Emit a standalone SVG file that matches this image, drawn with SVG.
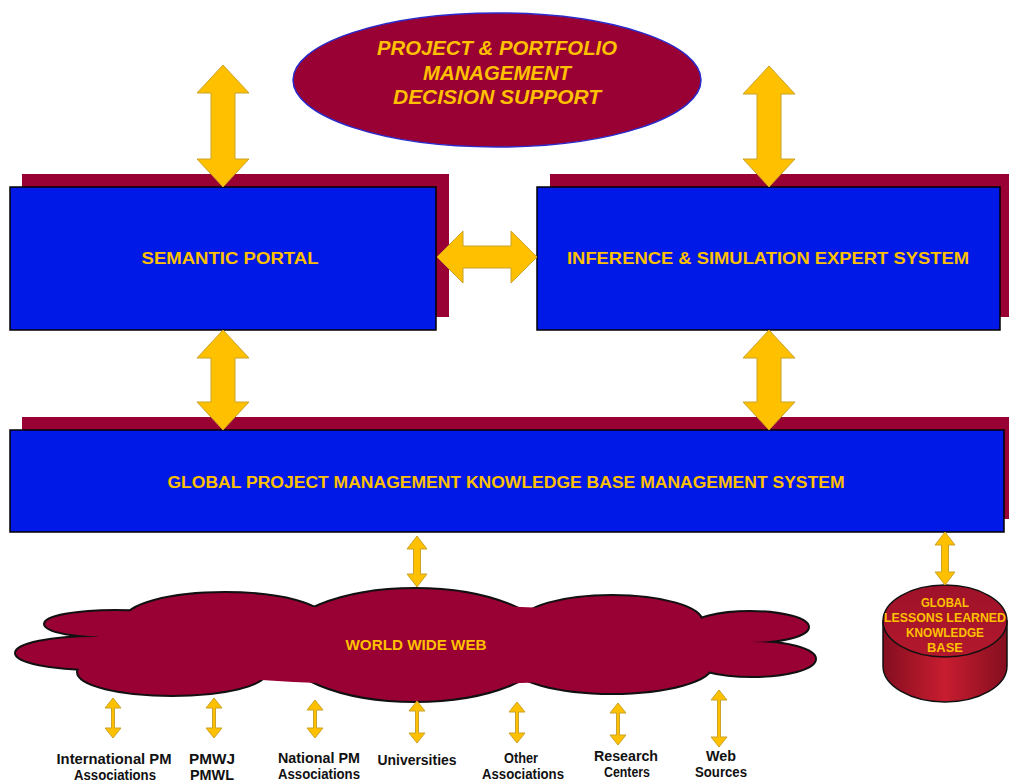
<svg xmlns="http://www.w3.org/2000/svg" width="1009" height="782" viewBox="0 0 1009 782">
  <defs>
    <style>
      .gold { fill: #FFC000; font-family: "Liberation Sans", Arial, sans-serif; font-weight: bold; text-anchor: middle; }
      .lbl { fill: #111111; font-family: "Liberation Sans", Arial, sans-serif; font-weight: bold; font-size: 14px; text-anchor: middle; }
      .shadow { fill: #990033; }
      .box { fill: #0019E6; stroke: #000000; stroke-width: 1.5; }
      .arrow { fill: #FFC000; stroke: #C9A227; stroke-width: 1; stroke-linejoin: miter; }
      .cloud-edge { fill: #990033; stroke: #111111; stroke-width: 4; }
      .cloud-fill { fill: #990033; }
    </style>
    <linearGradient id="cylBody" x1="0" y1="0" x2="1" y2="0">
      <stop offset="0" stop-color="#840E1F"/>
      <stop offset="0.5" stop-color="#C81D30"/>
      <stop offset="1" stop-color="#840E1F"/>
    </linearGradient>
    <linearGradient id="cylTop" x1="0" y1="0" x2="0" y2="1">
      <stop offset="0" stop-color="#9E1229"/>
      <stop offset="1" stop-color="#B3182D"/>
    </linearGradient>
  </defs>

  <rect width="1009" height="782" fill="#FFFFFF"/>

  <!-- decision support ellipse -->
  <g id="decision-support">
    <ellipse cx="497" cy="80" rx="204" ry="67" fill="#990033" stroke="#2B2BCC" stroke-width="1.5"/>
    <text class="gold" font-size="20" font-style="italic" x="497" y="55" textLength="240" lengthAdjust="spacingAndGlyphs">PROJECT &amp; PORTFOLIO</text>
    <text class="gold" font-size="20" font-style="italic" x="497" y="80" textLength="148" lengthAdjust="spacingAndGlyphs">MANAGEMENT</text>
    <text class="gold" font-size="20" font-style="italic" x="497" y="104" textLength="208" lengthAdjust="spacingAndGlyphs">DECISION SUPPORT</text>
  </g>

  <!-- semantic portal -->
  <g id="semantic-portal">
    <rect class="shadow" x="22" y="174" width="427" height="143"/>
    <rect class="box" x="10" y="187" width="426" height="143"/>
    <text class="gold" font-size="16" x="230" y="264" textLength="177" lengthAdjust="spacingAndGlyphs">SEMANTIC  PORTAL</text>
  </g>

  <!-- inference and simulation expert system -->
  <g id="expert-system">
    <rect class="shadow" x="550" y="174" width="470" height="143"/>
    <rect class="box" x="537" y="187" width="463" height="143"/>
    <text class="gold" font-size="16" x="768" y="264" textLength="402" lengthAdjust="spacingAndGlyphs">INFERENCE &amp; SIMULATION EXPERT SYSTEM</text>
  </g>

  <!-- knowledge base management system -->
  <g id="kbms">
    <rect class="shadow" x="22" y="417" width="1000" height="102"/>
    <rect class="box" x="10" y="430" width="994" height="102"/>
    <text class="gold" font-size="16" x="506" y="488" textLength="677" lengthAdjust="spacingAndGlyphs">GLOBAL PROJECT MANAGEMENT KNOWLEDGE BASE MANAGEMENT SYSTEM</text>
  </g>

  <!-- world wide web cloud: stroked lobes underneath, plain lobes on top leave only the outline -->
  <g id="world-wide-web">
    <g class="cloud-edge">
      <ellipse cx="95" cy="653" rx="79" ry="16"/>
      <ellipse cx="115" cy="624" rx="70" ry="13"/>
      <ellipse cx="225" cy="620" rx="100" ry="27"/>
      <ellipse cx="415" cy="645" rx="135" ry="56"/>
      <ellipse cx="612" cy="622" rx="90" ry="26"/>
      <ellipse cx="750" cy="627" rx="58" ry="15"/>
      <ellipse cx="752" cy="659" rx="63" ry="17"/>
      <ellipse cx="612" cy="665" rx="100" ry="28"/>
      <ellipse cx="172" cy="672" rx="94" ry="23"/>
    </g>
    <g class="cloud-fill">
      <ellipse cx="95" cy="653" rx="79" ry="16"/>
      <ellipse cx="115" cy="624" rx="70" ry="13"/>
      <ellipse cx="225" cy="620" rx="100" ry="27"/>
      <ellipse cx="415" cy="645" rx="135" ry="56"/>
      <ellipse cx="612" cy="622" rx="90" ry="26"/>
      <ellipse cx="750" cy="627" rx="58" ry="15"/>
      <ellipse cx="752" cy="659" rx="63" ry="17"/>
      <ellipse cx="612" cy="665" rx="100" ry="28"/>
      <ellipse cx="172" cy="672" rx="94" ry="23"/>
      <ellipse cx="420" cy="645" rx="330" ry="40"/>
    </g>
    <text class="gold" font-size="14" x="416" y="650" textLength="141" lengthAdjust="spacingAndGlyphs">WORLD WIDE WEB</text>
  </g>

  <!-- lessons learned database -->
  <g id="lessons-learned">
    <path d="M883,621 L883,666 A62,36 0 0 0 1007,666 L1007,621 Z" fill="url(#cylBody)" stroke="#111111" stroke-width="1.5"/>
    <ellipse cx="945" cy="621" rx="62" ry="36" fill="url(#cylTop)" stroke="#111111" stroke-width="1.5"/>
    <text class="gold" font-size="12" x="945" y="607" textLength="48" lengthAdjust="spacingAndGlyphs">GLOBAL</text>
    <text class="gold" font-size="12" x="945" y="622" textLength="122" lengthAdjust="spacingAndGlyphs">LESSONS LEARNED</text>
    <text class="gold" font-size="12" x="945" y="637" textLength="78" lengthAdjust="spacingAndGlyphs">KNOWLEDGE</text>
    <text class="gold" font-size="12" x="945" y="652" textLength="36" lengthAdjust="spacingAndGlyphs">BASE</text>
  </g>

  <!-- source labels -->
  <g id="sources">
    <text class="lbl" x="114" y="764" textLength="115" lengthAdjust="spacingAndGlyphs">International PM</text>
    <text class="lbl" x="115" y="780" textLength="82" lengthAdjust="spacingAndGlyphs">Associations</text>
    <text class="lbl" x="212" y="764" textLength="46" lengthAdjust="spacingAndGlyphs">PMWJ</text>
    <text class="lbl" x="212" y="780" textLength="44" lengthAdjust="spacingAndGlyphs">PMWL</text>
    <text class="lbl" x="319" y="763" textLength="82" lengthAdjust="spacingAndGlyphs">National PM</text>
    <text class="lbl" x="319" y="779" textLength="82" lengthAdjust="spacingAndGlyphs">Associations</text>
    <text class="lbl" x="417" y="765" textLength="79" lengthAdjust="spacingAndGlyphs">Universities</text>
    <text class="lbl" x="521" y="763" textLength="34" lengthAdjust="spacingAndGlyphs">Other</text>
    <text class="lbl" x="523" y="779" textLength="82" lengthAdjust="spacingAndGlyphs">Associations</text>
    <text class="lbl" x="626" y="761" textLength="64" lengthAdjust="spacingAndGlyphs">Research</text>
    <text class="lbl" x="627" y="777" textLength="46" lengthAdjust="spacingAndGlyphs">Centers</text>
    <text class="lbl" x="721" y="761" textLength="30" lengthAdjust="spacingAndGlyphs">Web</text>
    <text class="lbl" x="721" y="777" textLength="52" lengthAdjust="spacingAndGlyphs">Sources</text>
  </g>

  <!-- connectors: double-headed block arrows -->
  <g id="connectors">
    <polygon class="arrow" points="223,65 249,93 235,93 235,159 249,159 223,187 197,159 211,159 211,93 197,93"/>
    <polygon class="arrow" points="769,66 795,94 781,94 781,159 795,159 769,187 743,159 757,159 757,94 743,94"/>
    <polygon class="arrow" points="437,257 463,231 463,246 511,246 511,231 537,257 511,283 511,268 463,268 463,283"/>
    <polygon class="arrow" points="223,330 249,358 235,358 235,402 249,402 223,430 197,402 211,402 211,358 197,358"/>
    <polygon class="arrow" points="769,330 795,358 781,358 781,402 795,402 769,430 743,402 757,402 757,358 743,358"/>
    <polygon class="arrow" points="417,536 427,549 420.5,549 420.5,574 427,574 417,587 407,574 413.5,574 413.5,549 407,549"/>
    <polygon class="arrow" points="945,532 955,545 948.5,545 948.5,572 955,572 945,585 935,572 941.5,572 941.5,545 935,545"/>
    <polygon class="arrow" points="113,698 121,708 114.5,708 114.5,728 121,728 113,738 105,728 111.5,728 111.5,708 105,708"/>
    <polygon class="arrow" points="214,698 222,708 215.5,708 215.5,728 222,728 214,738 206,728 212.5,728 212.5,708 206,708"/>
    <polygon class="arrow" points="315,700 323,710 316.5,710 316.5,728 323,728 315,738 307,728 313.5,728 313.5,710 307,710"/>
    <polygon class="arrow" points="417,701 425,711 418.5,711 418.5,733 425,733 417,743 409,733 415.5,733 415.5,711 409,711"/>
    <polygon class="arrow" points="517,702 525,712 518.5,712 518.5,733 525,733 517,743 509,733 515.5,733 515.5,712 509,712"/>
    <polygon class="arrow" points="618,703 626,713 619.5,713 619.5,735 626,735 618,745 610,735 616.5,735 616.5,713 610,713"/>
    <polygon class="arrow" points="719,690 727,700 720.5,700 720.5,737 727,737 719,747 711,737 717.5,737 717.5,700 711,700"/>
  </g>
</svg>
